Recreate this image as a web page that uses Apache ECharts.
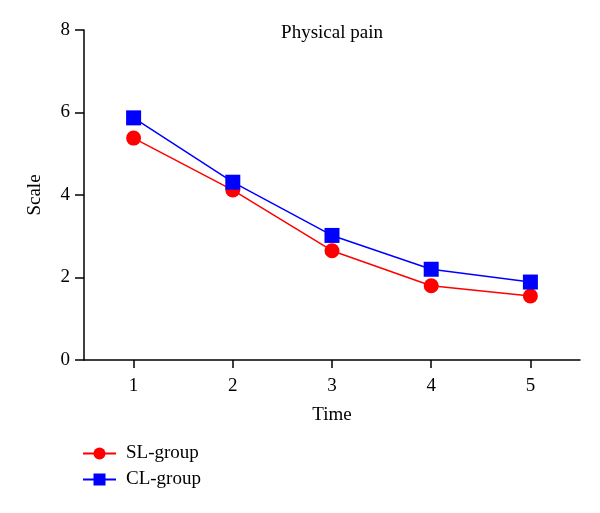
<!DOCTYPE html>
<html><head><meta charset="utf-8">
<script src="https://cdn.jsdelivr.net/npm/echarts@6/dist/echarts.min.js"></script>
<style>html,body{margin:0;padding:0;background:#fff}#c{width:600px;height:513px}</style>
</head><body><div id="c"></div>
<script>
const categories = ['1','2','3','4','5'];
const slGroup = [5.38, 4.12, 2.65, 1.8, 1.55];
const clGroup = [5.87, 4.31, 3.02, 2.2, 1.89];
const yTicks = [0, 2, 4, 6, 8];
const font = '"Liberation Serif", "DejaVu Serif", serif';
const fs = 19;
const chart = echarts.init(document.getElementById('c'));
chart.setOption({
  animation: false,
  backgroundColor: '#fff',
  title: { text: 'Physical pain', left: 327, top: 19, textAlign: 'center',
    textStyle: { fontFamily: font, fontSize: fs, fontWeight: 'normal', color: '#000' } },
  grid: { left: 84, right: 20, top: 30, bottom: 153 },
  legend: {
    orient: 'vertical', left: 77, top: 439, itemWidth: 33, itemHeight: 15, itemGap: 7,
    textStyle: { fontFamily: font, fontSize: fs, color: '#000', padding: [0, 0, 0, 5] },
    data: ['SL-group', 'CL-group']
  },
  xAxis: {
    type: 'category', data: categories, boundaryGap: true,
    name: 'Time', nameLocation: 'middle', nameGap: 46,
    nameTextStyle: { fontFamily: font, fontSize: fs, color: '#000' },
    axisLine: { lineStyle: { color: '#000', width: 1.5 } },
    axisTick: { show: true, alignWithLabel: true, length: 8, lineStyle: { color: '#000', width: 1.5 } },
    axisLabel: { fontFamily: font, fontSize: fs, color: '#000', margin: 17 },
    splitLine: { show: false }
  },
  yAxis: {
    type: 'value', min: yTicks[0], max: yTicks[yTicks.length - 1], interval: 2,
    name: 'Scale', nameLocation: 'middle', nameGap: 39, nameRotate: 90,
    nameTextStyle: { fontFamily: font, fontSize: fs, color: '#000' },
    axisLine: { show: true, lineStyle: { color: '#000', width: 1.5 } },
    axisTick: { show: true, length: 9, lineStyle: { color: '#000', width: 1.5 } },
    axisLabel: { fontFamily: font, fontSize: fs, color: '#000', margin: 14 },
    splitLine: { show: false }
  },
  series: [
    { name: 'SL-group', type: 'line', data: slGroup, symbol: 'circle', symbolSize: 15,
      itemStyle: { color: '#ff0000' }, lineStyle: { color: '#ff0000', width: 1.5 } },
    { name: 'CL-group', type: 'line', data: clGroup, symbol: 'rect', symbolSize: 15,
      itemStyle: { color: '#0000ff' }, lineStyle: { color: '#0000ff', width: 1.5 } }
  ]
});
</script></body></html>
